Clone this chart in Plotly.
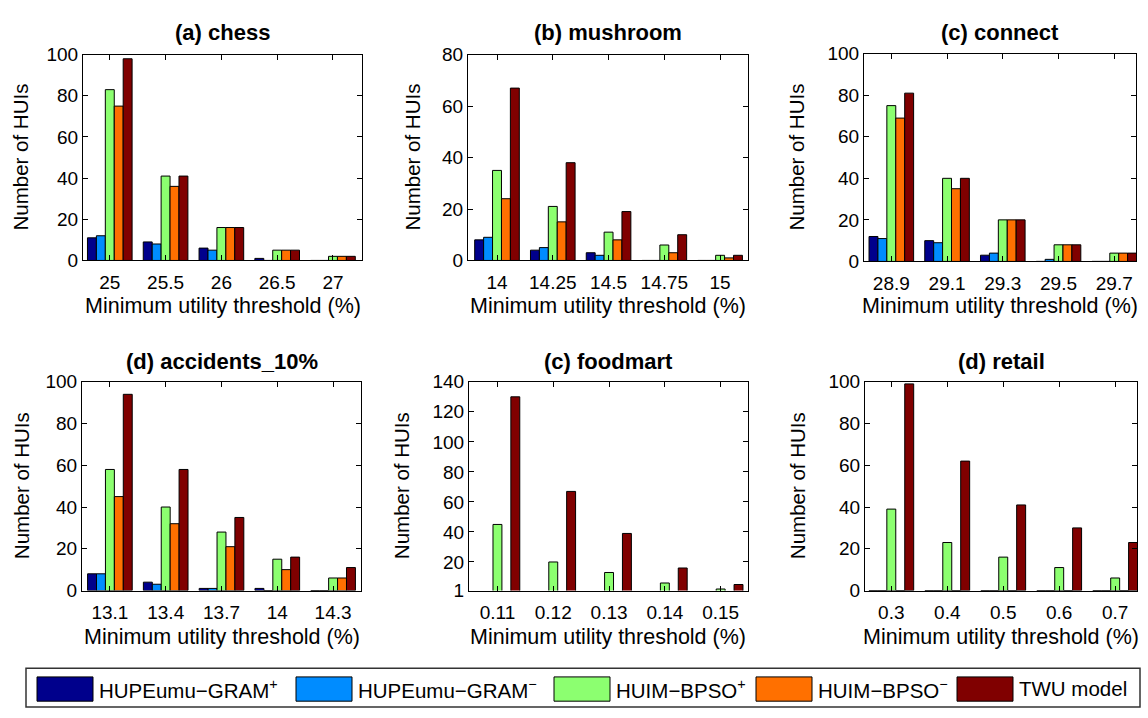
import plotly.graph_objects as go

W, H = 1148, 718

series_names = ["HUPEumu−GRAM<sup>+</sup>", "HUPEumu−GRAM<sup>−</sup>",
                "HUIM−BPSO<sup>+</sup>", "HUIM−BPSO<sup>−</sup>", "TWU model"]
colors = ["#00008C", "#008CFF", "#8CFF70", "#FF7000", "#800000"]

# ---- data ----
chess_x = ["25", "25.5", "26", "26.5", "27"]
chess_gram_p = [11, 9, 6, 1, 0]
chess_gram_m = [12, 8, 5, 0, 0]
chess_bpso_p = [83, 41, 16, 5, 2]
chess_bpso_m = [75, 36, 16, 5, 2]
chess_twu = [98, 41, 16, 5, 2]

mush_x = ["14", "14.25", "14.5", "14.75", "15"]
mush_gram_p = [8, 4, 3, 0, 0]
mush_gram_m = [9, 5, 2, 0, 0]
mush_bpso_p = [35, 21, 11, 6, 2]
mush_bpso_m = [24, 15, 8, 3, 1]
mush_twu = [67, 38, 19, 10, 2]

conn_x = ["28.9", "29.1", "29.3", "29.5", "29.7"]
conn_gram_p = [12, 10, 3, 0, 0]
conn_gram_m = [11, 9, 4, 1, 0]
conn_bpso_p = [75, 40, 20, 8, 4]
conn_bpso_m = [69, 35, 20, 8, 4]
conn_twu = [81, 40, 20, 8, 4]

acc_x = ["13.1", "13.4", "13.7", "14", "14.3"]
acc_gram_p = [8, 4, 1, 1, 0]
acc_gram_m = [8, 3, 1, 0, 0]
acc_bpso_p = [58, 40, 28, 15, 6]
acc_bpso_m = [45, 32, 21, 10, 6]
acc_twu = [94, 58, 35, 16, 11]

food_x = ["0.11", "0.12", "0.13", "0.14", "0.15"]
food_gram_p = [0, 0, 0, 0, 0]
food_gram_m = [0, 0, 0, 0, 0]
food_bpso_p = [45, 20, 13, 6, 2]
food_bpso_m = [0, 0, 0, 0, 0]
food_twu = [130, 67, 39, 16, 5]

ret_x = ["0.3", "0.4", "0.5", "0.6", "0.7"]
ret_gram_p = [0, 0, 0, 0, 0]
ret_gram_m = [0, 0, 0, 0, 0]
ret_bpso_p = [39, 23, 16, 11, 6]
ret_bpso_m = [0, 0, 0, 0, 0]
ret_twu = [99, 62, 41, 30, 23]

panels = [
    dict(title="<b>(a) chess</b>", x=chess_x,
         ys=[chess_gram_p, chess_gram_m, chess_bpso_p, chess_bpso_m, chess_twu],
         yrange=[0, 100], ytick=[0, 20, 40, 60, 80, 100],
         dom_x=(83, 362), dom_y=(46, 258), xr=[-0.48, 4.52], ytx=21),
    dict(title="<b>(b) mushroom</b>", x=mush_x,
         ys=[mush_gram_p, mush_gram_m, mush_bpso_p, mush_bpso_m, mush_twu],
         yrange=[0, 80], ytick=[0, 20, 40, 60, 80],
         dom_x=(468, 748), dom_y=(46, 258), xr=[-0.52, 4.5], ytx=413),
    dict(title="<b>(c) connect</b>", x=conn_x,
         ys=[conn_gram_p, conn_gram_m, conn_bpso_p, conn_bpso_m, conn_twu],
         yrange=[0, 100], ytick=[0, 20, 40, 60, 80, 100],
         dom_x=(864, 1136), dom_y=(45, 259), xr=[-0.49, 4.39], ytx=797),
    dict(title="<b>(d) accidents_10%</b>", x=acc_x,
         ys=[acc_gram_p, acc_gram_m, acc_bpso_p, acc_bpso_m, acc_twu],
         yrange=[0, 100], ytick=[0, 20, 40, 60, 80, 100],
         dom_x=(82, 361), dom_y=(383, 598), xr=[-0.5, 4.5], ytx=21),
    dict(title="<b>(c) foodmart</b>", x=food_x,
         ys=[food_gram_p, food_gram_m, food_bpso_p, food_bpso_m, food_twu],
         yrange=[1, 140], ytick=[1, 20, 40, 60, 80, 100, 120, 140],
         dom_x=(469, 748), dom_y=(383, 598), xr=[-0.51, 4.49], ytx=401),
    dict(title="<b>(d) retail</b>", x=ret_x,
         ys=[ret_gram_p, ret_gram_m, ret_bpso_p, ret_bpso_m, ret_twu],
         yrange=[0, 100], ytick=[0, 20, 40, 60, 80, 100],
         dom_x=(865, 1137), dom_y=(383, 598), xr=[-0.47, 4.39], ytx=797),
]

FONT = "Liberation Sans, Arial, Helvetica, sans-serif"

def px(x):
    return x / W

def py(y):
    return 1 - y / H

fig = go.Figure()
layout = dict(
    width=W, height=H, margin=dict(l=0, r=0, t=0, b=0),
    paper_bgcolor="white", plot_bgcolor="white",
    barmode="group", bargap=0.2, bargroupgap=0,
    showlegend=False,
    font=dict(family=FONT, color="black", size=19),
)
annotations = []
shapes = []

for i, p in enumerate(panels):
    k = "" if i == 0 else str(i + 1)
    for s in range(5):
        fig.add_trace(go.Bar(
            x=p["x"], y=p["ys"][s], name=series_names[s],
            marker=dict(color=colors[s], line=dict(color="black", width=1)),
            xaxis="x" + k, yaxis="y" + k, offsetgroup=str(s),
            showlegend=(i == 0),
        ))
    x0, x1 = p["dom_x"]
    y0, y1 = p["dom_y"]
    layout["xaxis" + k] = dict(
        domain=[px(x0), px(x1)], anchor="y" + k, type="category",
        range=p["xr"], showline=True, linecolor="black", linewidth=1,
        mirror="ticks", ticks="inside", ticklen=5, tickcolor="black",
        showgrid=False, zeroline=False, tickfont=dict(size=19),
        ticklabelstandoff=5,
    )
    layout["yaxis" + k] = dict(
        domain=[py(y1), py(y0)], anchor="x" + k, range=p["yrange"],
        tickvals=p["ytick"], showline=True, linecolor="black", linewidth=1,
        mirror="ticks", ticks="inside", ticklen=5, tickcolor="black",
        showgrid=False, zeroline=False, tickfont=dict(size=19),
    )
    cx = (x0 + x1) / 2
    cy = (y0 + y1) / 2
    ty = 23 if y0 < 200 else 362
    annotations.append(dict(text=p["title"], x=px(cx), y=py(ty), xref="paper", yref="paper",
                            showarrow=False, xanchor="center", yanchor="middle",
                            font=dict(size=22, family=FONT)))
    annotations.append(dict(text="Number of HUIs", x=px(p["ytx"]), y=py(cy), xref="paper",
                            yref="paper", showarrow=False, textangle=-90,
                            xanchor="center", yanchor="middle", font=dict(size=20.5, family=FONT)))
    xty = 305 if y0 < 200 else 646
    annotations.append(dict(text="Minimum utility threshold (%)", x=px(cx), y=py(xty),
                            xref="paper", yref="paper", showarrow=False,
                            xanchor="center", yanchor="middle", font=dict(size=21.5, family=FONT)))

# ---- legend (drawn as boxed row) ----
shapes.append(dict(type="rect", xref="paper", yref="paper",
                   x0=px(26), x1=px(1140), y0=py(718), y1=py(678),
                   line=dict(color="#333333", width=1.5), fillcolor="white", layer="below"))
sw_left = [37, 296, 554, 756, 957]
sw_w = 56
for s in range(5):
    shapes.append(dict(type="rect", xref="paper", yref="paper",
                       x0=px(sw_left[s]), x1=px(sw_left[s] + sw_w), y0=py(712), y1=py(687),
                       line=dict(color="black", width=1), fillcolor=colors[s]))
    annotations.append(dict(text=series_names[s], x=px(sw_left[s] + sw_w + 4), y=py(699),
                            xref="paper", yref="paper", showarrow=False,
                            xanchor="left", yanchor="middle", font=dict(size=20.5, family=FONT)))

layout["annotations"] = annotations
layout["shapes"] = shapes
fig.update_layout(**layout)
fig.write_html("out.html")
